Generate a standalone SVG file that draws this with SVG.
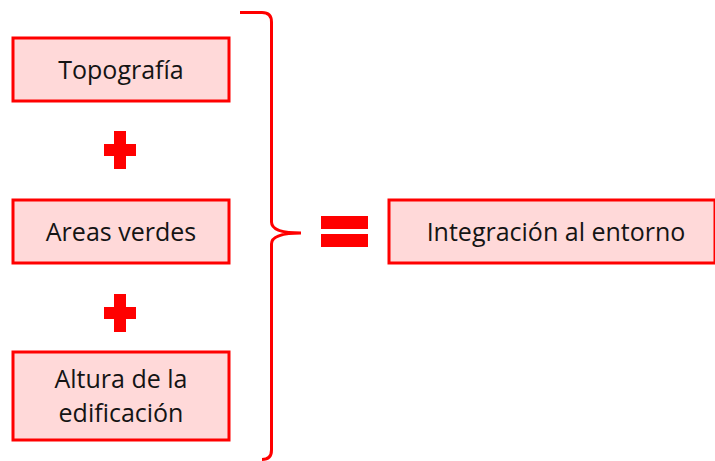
<svg xmlns="http://www.w3.org/2000/svg" width="715" height="461" viewBox="0 0 715 461">
<style>
.box{fill:#ffd9d9;stroke:#ff0000;stroke-width:3}
.t{font-family:"Open Sans","Liberation Sans",sans-serif;font-size:25px;fill:#141414;text-anchor:middle}
.sym{fill:#ff0000}
</style>
<rect width="715" height="461" fill="#ffffff"/>
<g id="topografia"><rect class="box" x="13" y="38" width="216" height="63"/><text class="t" x="121" y="79">Topografía</text></g>
<g id="plus1" class="sym"><rect x="114" y="131" width="12" height="38"/><rect x="104" y="144" width="32" height="12"/></g>
<g id="areas"><rect class="box" x="13" y="200" width="216" height="63"/><text class="t" x="121" y="241">Areas verdes</text></g>
<g id="plus2" class="sym"><rect x="114" y="294" width="12" height="38"/><rect x="104" y="307" width="32" height="12"/></g>
<g id="altura"><rect class="box" x="13" y="352" width="216" height="88"/><text class="t" x="121" y="388">Altura de la</text><text class="t" x="121" y="422">edificación</text></g>
<g id="connectors"><path d="M240 12.5 H262 Q271.5 12.5 271.5 22 V222 Q271.5 233 301 233 Q271.5 233 271.5 244 V450 Q271.5 459.5 262 459.5" fill="none" stroke="#ff0000" stroke-width="3"/></g>
<g id="equals" class="sym"><rect x="321" y="216" width="47" height="13"/><rect x="321" y="234" width="47" height="13"/></g>
<g id="integracion"><rect class="box" x="389" y="200" width="326" height="63"/><text class="t" x="556" y="241">Integración al entorno</text></g>
</svg>
